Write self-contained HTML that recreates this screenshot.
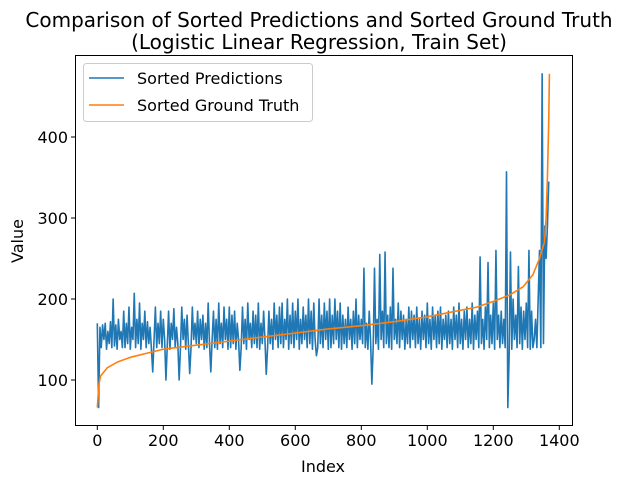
<!DOCTYPE html>
<html><head><meta charset="utf-8"><style>
body{margin:0;background:#fff}
text{font-family:"DejaVu Sans","Liberation Sans",sans-serif;fill:#000}
</style></head><body>
<svg id="chart" width="630" height="486" xmlns="http://www.w3.org/2000/svg">
<text x="319" y="27" font-size="20" text-anchor="middle">Comparison of Sorted Predictions and Sorted Ground Truth</text>
<text x="319" y="49" font-size="20" text-anchor="middle">(Logistic Linear Regression, Train Set)</text>
<g id="plot"></g>
<rect x="75.5" y="55.5" width="497" height="370" fill="none" stroke="#000" stroke-width="1"/>
<g id="ticks"></g>
<text x="323" y="472" font-size="16" text-anchor="middle">Index</text>
<text transform="translate(23,241) rotate(-90)" font-size="16" text-anchor="middle">Value</text>
<g>
<rect x="83.5" y="63.5" width="229" height="58" rx="3" fill="#fff" fill-opacity="0.8" stroke="#ccc"/>
<line x1="89" y1="78" x2="124" y2="78" stroke="#1f77b4" stroke-width="1.5"/>
<text x="137" y="84" font-size="16">Sorted Predictions</text>
<line x1="89" y1="105" x2="124" y2="105" stroke="#ff7f0e" stroke-width="1.5"/>
<text x="137" y="111" font-size="16">Sorted Ground Truth</text>
</g>
</svg>
<script>
const xTicks=[0,200,400,600,800,1000,1200,1400];
const yTicks=[100,200,300,400];
const predStep=4;
const predVal=[
170,66,165,140,168,150,170,138,160,145,172,140,200,142,168,138,175,150,160,140,
185,140,170,145,190,138,165,150,207,140,175,145,195,138,170,150,185,140,172,145,
165,138,110,150,190,140,170,145,185,140,175,150,100,142,185,138,170,150,188,140,
165,145,100,140,190,150,175,138,180,145,108,140,190,150,170,145,185,140,175,150,
180,138,170,140,195,145,110,150,185,140,175,138,195,145,170,140,190,150,175,138,
190,140,180,145,185,138,170,150,112,140,190,145,175,138,195,150,170,140,185,145,
180,140,195,138,170,145,185,150,107,140,185,145,175,138,195,150,180,140,190,145,
195,140,175,150,200,138,180,145,195,140,185,150,200,138,175,145,190,150,180,140,
200,145,185,138,195,150,130,140,200,145,180,140,195,150,185,138,200,140,180,145,
200,150,185,140,195,138,180,145,175,140,190,150,175,138,185,145,200,140,180,150,
175,145,238,140,170,138,185,150,95,140,238,145,175,138,255,150,185,140,258,145,
180,140,190,138,238,150,175,145,195,140,185,150,180,138,175,145,190,140,185,150,
180,140,190,145,175,138,185,150,180,140,195,145,175,138,190,150,180,140,185,145,
190,138,175,150,180,140,185,145,175,138,190,150,180,140,195,145,175,138,185,150,
190,140,175,145,195,138,180,150,185,140,252,145,175,138,190,150,245,140,180,145,
195,138,260,150,180,140,185,145,175,140,357,66,130,258,138,200,150,180,140,240,
145,190,138,185,150,195,140,260,138,185,140,150,175,140,200,260,140,478,145,290,
250,290,345];
const gtIdx=[0,5,10,30,60,100,150,200,300,400,500,600,700,800,900,1000,1100,1150,1200,1250,1290,1320,1340,1355,1360,1364,1368,1370];
const gtVal=[66,95,105,115,122,128,133,138,143,148,153,158,163,167,172,178,186,190,197,205,215,230,250,270,300,350,420,478];
const X=v=>97.3+v*0.33, Y=v=>380-(v-100)*0.81;
const NS="http://www.w3.org/2000/svg";
const plot=document.getElementById('plot'), ticks=document.getElementById('ticks');
function mk(t,a,p){const e=document.createElementNS(NS,t);for(const k in a)e.setAttribute(k,a[k]);p.appendChild(e);return e;}
const pp=mk('polyline',{points:predVal.map((v,i)=>X(i*predStep)+','+Y(v)).join(' '),fill:'none',stroke:'#1f77b4','stroke-width':1.6,'stroke-linejoin':'round'},plot);


const gp=mk('polyline',{points:gtIdx.map((x,i)=>X(x)+','+Y(gtVal[i])).join(' '),fill:'none',stroke:'#ff7f0e','stroke-width':1.6,'stroke-linejoin':'round'},plot);


xTicks.forEach(v=>{
 const l=mk('line',{x1:X(v),x2:X(v),y1:426,y2:430,stroke:'#000'},ticks);
 
 
 const t=mk('text',{x:X(v),y:446,'font-size':16,'text-anchor':'middle'},ticks);t.textContent=v;
 
 
});
yTicks.forEach(v=>{
 const l=mk('line',{x1:71,x2:75,y1:Y(v),y2:Y(v),stroke:'#000'},ticks);
 
 
 const t=mk('text',{x:68,y:Y(v)+6,'font-size':16,'text-anchor':'end'},ticks);t.textContent=v;
 
 
});
</script>
</body></html>
